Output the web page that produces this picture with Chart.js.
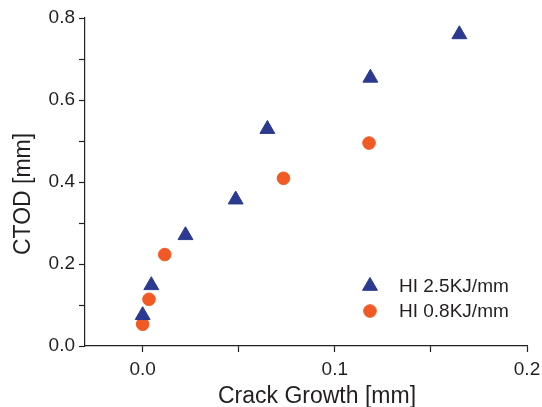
<!DOCTYPE html>
<html lang="en">
<head>
  <meta charset="UTF-8" />
  <title>CTOD vs Crack Growth</title>
  <script src="https://cdn.jsdelivr.net/npm/chart.js"></script>
  <style>
    html, body { margin: 0; padding: 0; background: #fff; }
    #wrap { width: 542px; height: 407px; }
  </style>
</head>
<body>
  <div id="wrap"><canvas id="chart" width="542" height="407"></canvas></div>

  <script>
    // series
    const hi25Growth = [0.000, 0.0045, 0.0223, 0.0484, 0.0649, 0.1185, 0.1648];
    const hi25Ctod   = [0.075, 0.148, 0.270, 0.357, 0.529, 0.654, 0.760];
    const hi08Growth = [0.000, 0.0033, 0.0115, 0.0733, 0.1178];
    const hi08Ctod   = [0.053, 0.114, 0.223, 0.409, 0.495];

    const seriesNames = ['HI 2.5KJ/mm', 'HI 0.8KJ/mm'];
    const xTicks = [0, 0.05, 0.1, 0.15, 0.2];
    const xLabels = ['0.0', '', '0.1', '', '0.2'];
    const yTicks = [0, 0.1, 0.2, 0.3, 0.4, 0.5, 0.6, 0.7, 0.8];
    const yLabels = ['0.0', '', '0.2', '', '0.4', '', '0.6', '', '0.8'];

    const ink = '#231f20';
    const font = 'Liberation Sans, Arial, Helvetica, sans-serif';

    const toPoints = (xs, ys) => xs.map((x, i) => ({ x, y: ys[i] }));

    // legend drawn inside the plot, lower right
    const insideLegend = {
      id: 'insideLegend',
      afterDatasetsDraw(chart) {
        const { ctx, chartArea } = chart;
        const x0 = chartArea.right - 157;
        const rows = [chartArea.bottom - 60, chartArea.bottom - 35];
        ctx.save();
        chart.data.datasets.forEach((ds, i) => {
          ctx.fillStyle = ds.backgroundColor;
          ctx.strokeStyle = ds.borderColor;
          ctx.lineWidth = ds.borderWidth;
          Chart.helpers.drawPoint(ctx, {
            pointStyle: ds.pointStyle, radius: ds.pointRadius, rotation: 0, borderWidth: ds.borderWidth
          }, x0, rows[i]);
          ctx.fillStyle = ink;
          ctx.font = '19px ' + font;
          ctx.textAlign = 'left';
          ctx.textBaseline = 'middle';
          ctx.fillText(ds.label, x0 + 29, rows[i] + 1);
        });
        ctx.restore();
      }
    };

    // axis titles, placed like the original figure
    const axisTitles = {
      id: 'axisTitles',
      afterDraw(chart) {
        const { ctx } = chart;
        ctx.save();
        ctx.fillStyle = ink;
        ctx.font = '23px ' + font;
        ctx.textAlign = 'center';
        ctx.textBaseline = 'middle';
        ctx.fillText('Crack Growth [mm]', 317, 397);
        ctx.translate(24, 194);
        ctx.rotate(-Math.PI / 2);
        ctx.fillText('CTOD [mm]', 0, 0);
        ctx.restore();
      }
    };

    new Chart(document.getElementById('chart'), {
      type: 'scatter',
      data: {
        datasets: [
          {
            label: seriesNames[0],
            data: toPoints(hi25Growth, hi25Ctod),
            pointStyle: 'triangle',
            pointRadius: 8.6,
            pointHoverRadius: 8.6,
            backgroundColor: '#2b3990',
            borderColor: '#2b3990',
            borderWidth: 1
          },
          {
            label: seriesNames[1],
            data: toPoints(hi08Growth, hi08Ctod),
            pointStyle: 'circle',
            pointRadius: 6.3,
            pointHoverRadius: 6.3,
            backgroundColor: '#f15a24',
            borderColor: '#f15a24',
            borderWidth: 1
          }
        ]
      },
      options: {
        responsive: false,
        animation: false,
        layout: { padding: { top: 18, right: 0, left: 0, bottom: 0 } },
        plugins: { legend: { display: false }, tooltip: { enabled: false } },
        scales: {
          x: {
            type: 'linear',
            min: -0.03,
            max: 0.2,
            afterBuildTicks: (s) => { s.ticks = xTicks.map(v => ({ value: v })); },
            afterFit: (s) => { s.height = 61; s.paddingRight = 15; },
            border: { color: ink, width: 1.2 },
            grid: { drawOnChartArea: false, drawTicks: true, tickLength: 6, tickColor: ink, tickWidth: 1.2 },
            ticks: {
              color: ink,
              font: { family: font, size: 19 },
              padding: 6,
              maxRotation: 0,
              autoSkip: false,
              callback: (v, i) => xLabels[i]
            }
          },
          y: {
            type: 'linear',
            min: 0,
            max: 0.8,
            afterBuildTicks: (s) => { s.ticks = yTicks.map(v => ({ value: v })); },
            afterFit: (s) => { s.width = 85; },
            border: { color: ink, width: 1.2 },
            grid: { drawOnChartArea: false, drawTicks: true, tickLength: 6, tickColor: ink, tickWidth: 1.2 },
            ticks: {
              color: ink,
              font: { family: font, size: 19 },
              padding: 4,
              autoSkip: false,
              callback: (v, i) => yLabels[i]
            }
          }
        }
      },
      plugins: [insideLegend, axisTitles]
    });
  </script>
</body>
</html>
